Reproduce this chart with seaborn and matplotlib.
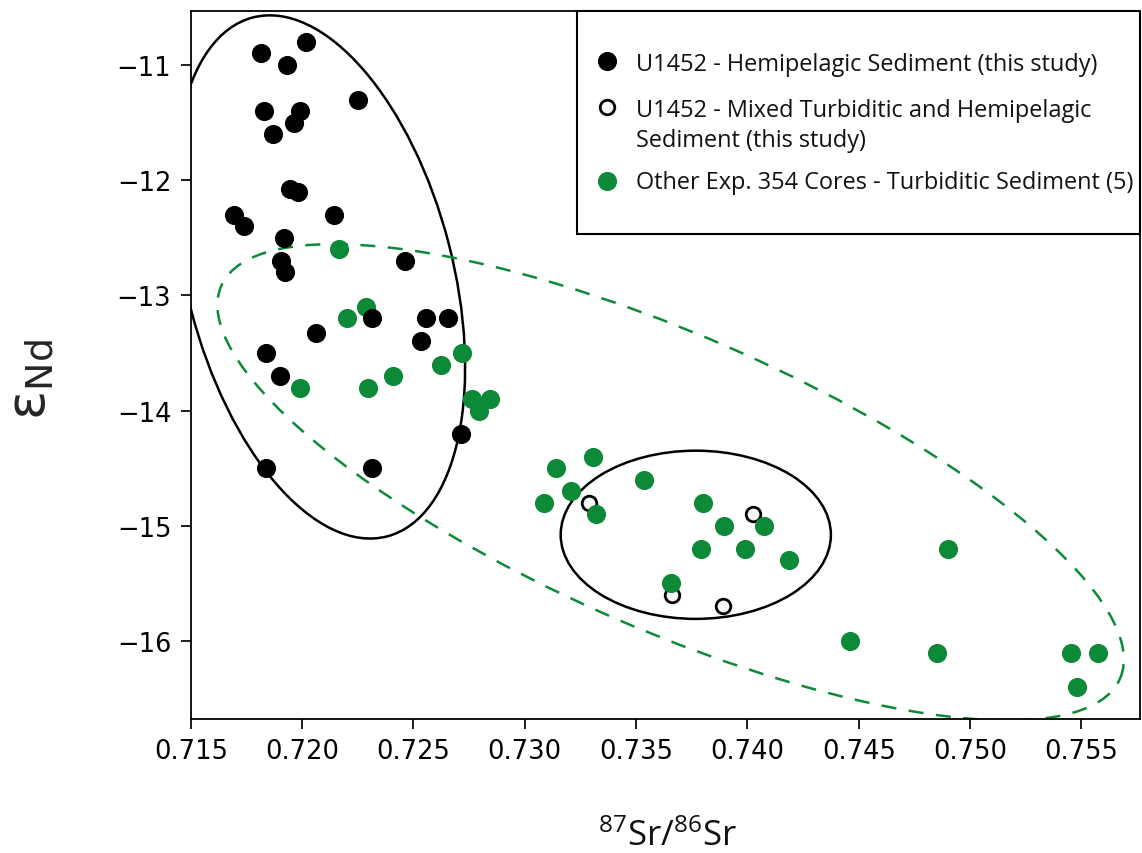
import numpy as np
import pandas as pd
import matplotlib
matplotlib.use("Agg")
import matplotlib.pyplot as plt
import seaborn as sns
from matplotlib.patches import Ellipse, Rectangle
from matplotlib.transforms import ScaledTranslation

# --- data -------------------------------------------------------------------
hemi_sr = [0.71815, 0.72016, 0.71932, 0.71830, 0.71992, 0.71965, 0.71870, 0.72250,
           0.71945, 0.71980, 0.71694, 0.71739, 0.72144, 0.71919, 0.71906, 0.71923,
           0.72462, 0.72061, 0.71838, 0.71901, 0.72312, 0.72556, 0.72656, 0.72534,
           0.72712, 0.71838, 0.72312]
hemi_nd = [-10.9, -10.8, -11.0, -11.4, -11.4, -11.5, -11.6, -11.3,
           -12.08, -12.1, -12.3, -12.4, -12.3, -12.5, -12.7, -12.8,
           -12.7, -13.33, -13.5, -13.7, -13.2, -13.2, -13.2, -13.4,
           -14.2, -14.5, -14.5]

mixed_sr = [0.73290, 0.74025, 0.73662, 0.73891]
mixed_nd = [-14.8, -14.9, -15.6, -15.7]

turb_sr = [0.72166, 0.72203, 0.72287, 0.71990, 0.72297, 0.72409, 0.72624, 0.72717,
           0.72761, 0.72844, 0.72794, 0.73139, 0.73308, 0.73206, 0.73085, 0.73318,
           0.73535, 0.73799, 0.73894, 0.74075, 0.73790, 0.73990, 0.74185, 0.73655,
           0.74900, 0.74462, 0.74851, 0.75451, 0.75573, 0.75478]
turb_nd = [-12.6, -13.2, -13.1, -13.8, -13.8, -13.7, -13.6, -13.5,
           -13.9, -13.9, -14.0, -14.5, -14.4, -14.7, -14.8, -14.9,
           -14.6, -14.8, -15.0, -15.0, -15.2, -15.2, -15.3, -15.5,
           -15.2, -16.0, -16.1, -16.1, -16.1, -16.4]

group_labels = [
    "U1452 - Hemipelagic Sediment (this study)",
    "U1452 - Mixed Turbiditic and Hemipelagic\nSediment (this study)",
    "Other Exp. 354 Cores - Turbiditic Sediment (5)",
]

x_ticks = [0.715, 0.720, 0.725, 0.730, 0.735, 0.740, 0.745, 0.750, 0.755]
y_ticks = [-16, -15, -14, -13, -12, -11]

GREEN = "#0c8a38"

df = pd.concat([
    pd.DataFrame({"sr": hemi_sr, "nd": hemi_nd, "group": group_labels[0]}),
    pd.DataFrame({"sr": mixed_sr, "nd": mixed_nd, "group": group_labels[1]}),
    pd.DataFrame({"sr": turb_sr, "nd": turb_nd, "group": group_labels[2]}),
], ignore_index=True)

# --- figure -----------------------------------------------------------------
sns.set_style("ticks")
plt.rcParams["font.family"] = ["DejaVu Sans"]
plt.rcParams["axes.linewidth"] = 1.3
plt.rcParams["mathtext.rm"] = "Open Sans"
plt.rcParams["mathtext.it"] = "Open Sans:italic"
plt.rcParams["mathtext.bf"] = "Open Sans:bold"

W, H = 1142, 854
fig = plt.figure(figsize=(W / 100, H / 100), dpi=100)
ax_l, ax_r, ax_t, ax_b = 190.8, 1140.0, 11.7, 720.0
ax = fig.add_axes([ax_l / W, 1 - ax_b / H, (ax_r - ax_l) / W, (ax_b - ax_t) / H])

# points: open circles beneath, green turbidites, black hemipelagic on top
sns.scatterplot(data=df[df.group == group_labels[1]], x="sr", y="nd", ax=ax,
                marker="o", s=110, facecolor="#f8f8f8", edgecolor="black",
                linewidth=2.0, zorder=3, legend=False)
sns.scatterplot(data=df[df.group == group_labels[2]], x="sr", y="nd", ax=ax,
                marker="o", s=190, color=GREEN, linewidth=0, zorder=4, legend=False)
sns.scatterplot(data=df[df.group == group_labels[0]], x="sr", y="nd", ax=ax,
                marker="o", s=190, color="black", linewidth=0, zorder=5, legend=False)


# field outlines: centre in data units, size in inches so they stay true ellipses
def field(cx, cy, w_in, h_in, angle, **kw):
    tr = fig.dpi_scale_trans + ScaledTranslation(cx, cy, ax.transData)
    e = Ellipse((0, 0), w_in, h_in, angle=angle, fill=False, transform=tr, **kw)
    ax.add_patch(e)
    e.set_clip_path(ax.patch)
    return e


field(0.72080, -12.840, 2.660, 5.360, 14.5, edgecolor="black", linewidth=1.8, zorder=2)
field(0.73768, -15.078, 2.702, 1.682, 0.0, edgecolor="black", linewidth=1.8, zorder=2)
field(0.73655, -14.622, 2.940, 9.808, 66.4, edgecolor=GREEN, linewidth=1.8,
      linestyle=(0, (6, 5)), zorder=2)

ax.set_xlim(0.715, 0.75763)
ax.set_ylim(-16.677, -10.529)

ax.set_xticks(x_ticks)
ax.set_xticklabels([f"{v:.3f}" for v in x_ticks])
ax.set_yticks(y_ticks)
ax.set_yticklabels([f"\u2212{abs(v)}" for v in y_ticks])
ax.tick_params(axis="both", direction="out", length=7, width=1.25,
               labelsize=18.5, pad=7, colors="black")
ax.set_xlabel("")
ax.set_ylabel("")
for sp in ax.spines.values():
    sp.set_visible(True)
    sp.set_color("black")
    sp.set_linewidth(1.3)

# axis titles
fig.text(668 / W, 1 - 846 / H, r"$^{87}$Sr/$^{86}$Sr", ha="center", va="baseline",
         fontsize=25, family=["Open Sans", "DejaVu Sans"], math_fontfamily="custom",
         color="#111111")
fig.text(31 / W, 1 - 380 / H, "\u03b5$_{\\mathrm{Nd}}$", rotation=90,
         ha="center", va="center", fontsize=39, math_fontfamily="dejavusans")

# key box
leg_font = {"family": ["Open Sans", "DejaVu Sans"], "size": 16.9}
ax.add_patch(Rectangle((0.4072, 0.6847), 0.5928, 0.3153, transform=ax.transAxes,
                       fill=True, facecolor="white", edgecolor="black",
                       linewidth=1.5, zorder=6, clip_on=False))
mx, tx = 0.4380, 0.4687
ax.scatter([mx], [0.9294], s=190, color="black", linewidth=0,
           transform=ax.transAxes, zorder=7, clip_on=False)
ax.scatter([mx], [0.8637], s=110, facecolor="#f8f8f8", edgecolor="black",
           linewidth=2.0, transform=ax.transAxes, zorder=7, clip_on=False)
ax.scatter([mx], [0.7600], s=190, color=GREEN, linewidth=0,
           transform=ax.transAxes, zorder=7, clip_on=False)
line2a, line2b = group_labels[1].split("\n")
for text, yb in [(group_labels[0], 0.9167), (line2a, 0.8518), (line2b, 0.8094),
                 (group_labels[2], 0.7493)]:
    ax.text(tx, yb, text, transform=ax.transAxes, ha="left", va="baseline",
            fontdict=leg_font, color="#111111", zorder=8)

fig.savefig("out.png", dpi=100, facecolor="white")
